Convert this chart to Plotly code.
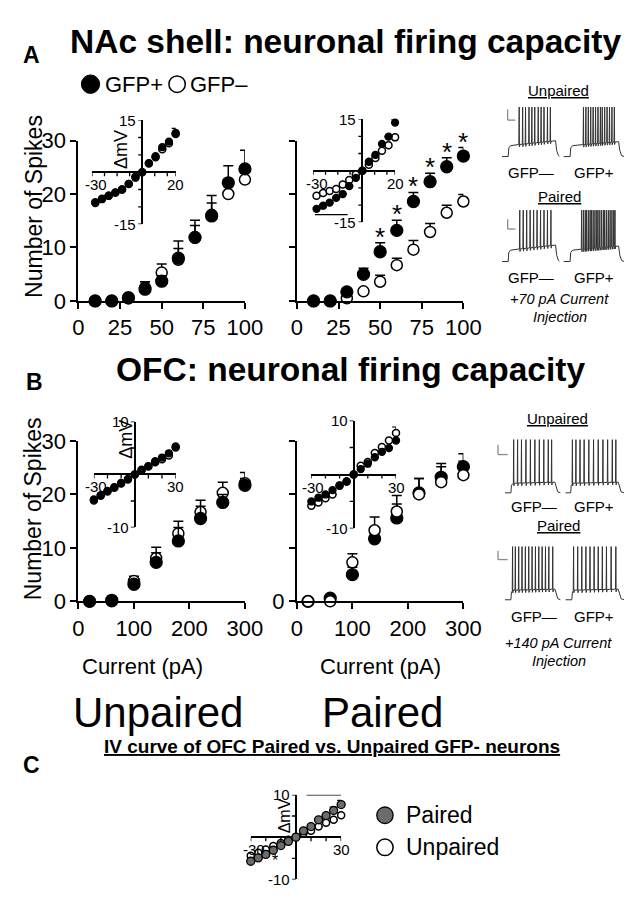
import plotly.graph_objects as go

W, H = 636, 899
FONT = "Liberation Sans, Arial, sans-serif"


def fx(p):
    return p / W


def fy(p):
    return 1 - p / H


# ---------------- DATA ----------------
A_current = [10, 20, 30, 40, 50, 60, 70, 80, 90, 100]
A_unp_pos = [0, 0, 0.6, 2.2, 3.7, 8.0, 11.9, 15.9, 22.1, 24.7]
A_unp_pos_err = [0, 0, 0, 1.4, 1.0, 3.2, 3.2, 3.8, 3.2, 3.5]
A_unp_neg = [0, 0, 0.5, 2.5, 5.3, 7.7, 11.8, 16.1, 20.0, 22.7]
A_unp_neg_err = [0, 0, 0, 1.1, 1.6, 2.1, 2.3, 2.2, 1.5, 1.2]
A_pair_pos = [0, 0, 1.7, 5.0, 9.2, 13.2, 18.6, 22.3, 25.1, 27.1]
A_pair_pos_err = [0, 0, 0, 1.1, 1.7, 1.9, 1.7, 1.6, 1.7, 1.6]
A_pair_neg = [0, 0, 0.5, 1.8, 3.6, 6.7, 9.6, 12.9, 16.5, 18.6]
A_pair_neg_err = [0, 0, 0, 0, 1.2, 1.3, 1.7, 1.6, 1.4, 1.3]
A_pair_sig = ["", "", "", "", "*", "*", "*", "*", "*", "*"]
A_xticks = [0, 25, 50, 75, 100]

IVA_current = [-28, -24, -20, -16, -12, -8, -4, 0, 4, 8, 12, 16, 20]
IVA_unp_pos = [-8.9, -7.8, -6.8, -5.9, -5.0, -3.4, -1.6, 0, 2.6, 4.6, 7.2, 8.8, 11.3]
IVA_unp_neg = [-8.7, -7.7, -6.8, -5.9, -5.0, -3.4, -1.3, 0, 2.5, 4.3, 6.6, 8.3, 11.0]
IVA_unp_neg_err = [0, 0, 0, 0, 0, 0, 0, 0, 0, 0, 0, 0, 1.6]
IVA_pair_pos = [-11.1, -10.2, -9.3, -7.9, -6.8, -4.5, -2.1, 0, 2.6, 4.6, 7.8, 9.9, 14.0]
IVA_pair_pos_err = [0, 0, 0, 0, 0, 0, 0, 0, 0, 0, 0, 0, 1.0]
IVA_pair_neg = [-7.3, -6.5, -5.9, -5.3, -4.0, -2.7, -1.1, 0, 1.7, 3.7, 5.8, 7.4, 9.7]

B_current = [20, 60, 100, 140, 180, 220, 260, 300]
B_unp_pos = [0, 0.2, 3.2, 7.3, 11.3, 15.5, 18.5, 21.7]
B_unp_pos_err = [0, 0, 0.8, 1.8, 2.5, 2.3, 1.5, 1.3]
B_unp_neg = [0, 0, 3.8, 8.1, 12.7, 16.7, 20.3, 22.1]
B_unp_neg_err = [0, 0, 0.9, 2.0, 2.3, 2.2, 2.0, 2.0]
B_pair_pos = [0, 0.6, 5.0, 11.7, 15.6, 20.3, 23.2, 25.2]
B_pair_pos_err = [0, 0, 1.4, 1.6, 2.6, 2.7, 2.6, 2.4]
B_pair_neg = [0, 0, 7.3, 13.3, 16.8, 20.0, 22.3, 23.6]
B_pair_neg_err = [0, 0, 1.6, 2.5, 3.0, 3.0, 2.9, 2.6]
B_xticks = [0, 100, 200, 300]

IVB_current = [-30, -25, -20, -15, -10, -5, 0, 5, 10, 15, 20, 25, 30]
IVB_unp_pos = [-4.7, -3.9, -3.1, -2.4, -1.6, -0.9, 0, 0.9, 1.6, 2.5, 3.2, 4.0, 5.3]
IVB_unp_neg = [-4.9, -4.0, -3.2, -2.5, -1.7, -0.9, 0, 0.8, 1.5, 2.3, 2.9, 3.6, 5.1]
IVB_pair_pos = [-5.0, -4.3, -3.7, -2.9, -2.0, -1.3, 0, 1.0, 2.0, 3.2, 4.2, 4.9, 6.3]
IVB_pair_neg = [-5.8, -5.2, -4.4, -3.7, -2.1, -1.3, 0, 1.6, 2.3, 4.0, 5.1, 6.3, 7.7]
IVB_pair_neg_err = [0, 0, 0, 0, 0, 0, 0, 0, 0, 0, 0, 0, 1.1]

C_current = [-30, -25, -20, -15, -10, -5, 0, 5, 10, 15, 20, 25, 30]
C_paired = [-5.7, -4.9, -4.1, -3.1, -2.0, -1.0, 0, 1.5, 2.5, 4.1, 5.1, 6.3, 7.7]
C_paired_err = [0, 0, 0, 0, 0, 0, 0, 0, 0, 0, 0, 0.8, 1.0]
C_unpaired = [-4.4, -3.7, -2.9, -2.1, -1.4, -0.6, 0, 0.9, 1.5, 2.5, 3.4, 4.1, 5.2]
C_unpaired_err = [0, 0, 0, 0, 0, 0, 0, 0, 0, 0, 0, 0, 0.5]

A_unp_neg_spikes = [0.30, 0.36, 0.41, 0.47, 0.52, 0.57, 0.63, 0.68, 0.73, 0.79, 0.84]
A_unp_pos_spikes = [0.33, 0.37, 0.41, 0.45, 0.49, 0.53, 0.57, 0.61, 0.64, 0.68, 0.72, 0.76, 0.80, 0.84]
A_pair_neg_spikes = [0.31, 0.37, 0.43, 0.49, 0.55, 0.61, 0.67, 0.73, 0.79, 0.85]
A_pair_pos_spikes = [0.30, 0.33, 0.36, 0.38, 0.41, 0.44, 0.46, 0.49, 0.52, 0.55, 0.57,
                     0.60, 0.63, 0.66, 0.68, 0.71, 0.74, 0.77, 0.80, 0.83, 0.85]
B_unp_neg_spikes = [0.16, 0.23, 0.30, 0.38, 0.46, 0.54, 0.62, 0.70, 0.78, 0.84]
B_unp_pos_spikes = [0.12, 0.18, 0.25, 0.32, 0.40, 0.48, 0.56, 0.64, 0.72, 0.80, 0.86]
B_pair_neg_spikes = [0.14, 0.19, 0.25, 0.31, 0.37, 0.43, 0.49, 0.55, 0.61, 0.67, 0.73, 0.79, 0.86]
B_pair_pos_spikes = [0.14, 0.21, 0.28, 0.35, 0.42, 0.49, 0.56, 0.63, 0.70, 0.78, 0.86]

# ---------------- FIGURE ----------------
fig = go.Figure()
layout = {}
annotations = []
shapes = []


def main_axes(n, x0, x1, ytop, ybot, xr, xt, ytext):
    layout["xaxis%d" % n] = dict(
        domain=[fx(x0), fx(x1)], range=xr, anchor="y%d" % n,
        showline=True, linecolor="black", linewidth=2, ticks="outside",
        ticklen=6, tickwidth=2, tickcolor="black", tickvals=xt,
        ticktext=[str(v) for v in xt],
        tickfont=dict(size=22, color="black", family=FONT),
        showgrid=False, zeroline=False, fixedrange=True)
    layout["yaxis%d" % n] = dict(
        domain=[fy(ybot), fy(ytop)], range=[0, 30], anchor="x%d" % n,
        showline=True, linecolor="black", linewidth=2, ticks="outside",
        ticklen=6, tickwidth=2, tickcolor="black", tickvals=[0, 10, 20, 30],
        ticktext=ytext, tickfont=dict(size=22, color="black", family=FONT),
        showgrid=False, zeroline=False, fixedrange=True)


def inset_axes(n, x0, x1, ytop, ybot, xr, yr):
    common = dict(showline=False, showticklabels=False, ticks="", showgrid=False,
                  zeroline=True, zerolinecolor="black", zerolinewidth=1.5,
                  fixedrange=True)
    layout["xaxis%d" % n] = dict(domain=[fx(x0), fx(x1)], range=xr, anchor="y%d" % n, **common)
    layout["yaxis%d" % n] = dict(domain=[fy(ybot), fy(ytop)], range=yr, anchor="x%d" % n, **common)


def hidden_axes(n, x0, x1, ytop, ybot):
    layout["xaxis%d" % n] = dict(domain=[fx(x0), fx(x1)], range=[0, 1], anchor="y%d" % n,
                                 visible=False, fixedrange=True)
    layout["yaxis%d" % n] = dict(domain=[fy(ybot), fy(ytop)], range=[-0.03, 1.03],
                                 anchor="x%d" % n, visible=False, fixedrange=True)


def series(n, x, y, err, filled, size, color="black", ew=1.5, ewidth=5):
    xa = "x" if n == 1 else "x%d" % n
    ya = "y" if n == 1 else "y%d" % n
    marker = dict(size=size, color=color if filled else "white",
                  line=dict(color="black", width=1.3 if filled else 1.5))
    kw = {}
    if err is not None:
        kw["error_y"] = dict(type="data", array=err, arrayminus=[0] * len(err),
                             symmetric=False, color="black", thickness=ew, width=ewidth)
    fig.add_trace(go.Scatter(x=x, y=y, mode="markers", marker=marker, xaxis=xa, yaxis=ya,
                             cliponaxis=False, hoverinfo="skip", **kw))


def inset_ticks(n, xt, yt):
    for v in xt:
        shapes.append(dict(type="line", xref="x%d" % n, yref="y%d" % n, ysizemode="pixel",
                           yanchor=0, x0=v, x1=v, y0=0, y1=-4,
                           line=dict(color="black", width=1.3)))
    for v in yt:
        shapes.append(dict(type="line", xref="x%d" % n, yref="y%d" % n, xsizemode="pixel",
                           xanchor=0, y0=v, y1=v, x0=0, x1=-4,
                           line=dict(color="black", width=1.3)))


def inset_label(n, text, x, y, xanchor="center", yanchor="middle", xshift=0, yshift=0,
                size=15, angle=0):
    annotations.append(dict(text=text, xref="x%d" % n, yref="y%d" % n, x=x, y=y,
                            xanchor=xanchor, yanchor=yanchor, xshift=xshift, yshift=yshift,
                            showarrow=False, textangle=angle,
                            font=dict(size=size, color="black", family=FONT)))


def text(t, x, y, size, bold=False, italic=False, xanchor="center", angle=0, color="black"):
    if bold:
        t = "<b>%s</b>" % t
    if italic:
        t = "<i>%s</i>" % t
    annotations.append(dict(text=t, xref="paper", yref="paper", x=fx(x), y=fy(y),
                            xanchor=xanchor, yanchor="middle", showarrow=False,
                            textangle=angle, font=dict(size=size, color=color, family=FONT)))


# --- Panel A main
main_axes(1, 67, 240, 124, 289, [0, 100], A_xticks, ["0", "10", "20", "30"])
main_axes(2, 294, 467, 124, 289, [0, 100], A_xticks, ["", "", "", ""])
series(1, A_current, A_unp_neg, A_unp_neg_err, False, 11)
series(1, A_current, A_unp_pos, A_unp_pos_err, True, 12)
series(2, A_current, A_pair_neg, A_pair_neg_err, False, 11)
series(2, A_current, A_pair_pos, A_pair_pos_err, True, 12)
for xv, yv, ev, s in zip(A_current, A_pair_pos, A_pair_pos_err, A_pair_sig):
    if s:
        annotations.append(dict(text=s, xref="x2", yref="y2", x=xv, y=yv + ev, yanchor="middle",
                                yshift=6, showarrow=False,
                                font=dict(size=26, color="black", family=FONT)))

# --- Panel A insets
inset_axes(3, 81, 168, 103, 210, [-30, 20], [-15, 15])
inset_axes(4, 311, 396, 102, 208, [-30, 20], [-15, 15])
series(3, IVA_current, IVA_unp_neg, IVA_unp_neg_err, False, 7, ew=1.2, ewidth=4)
series(3, IVA_current, IVA_unp_pos, None, True, 7)
series(4, IVA_current, IVA_pair_neg, None, False, 7)
series(4, IVA_current, IVA_pair_pos, IVA_pair_pos_err, True, 7, ew=1.2, ewidth=4)
for n in (3, 4):
    inset_ticks(n, [-30, -22.5, -15, -7.5, 7.5, 15, 20], [-15, -10, -5, 5, 10, 15])
    inset_label(n, "15", 0, 15, xanchor="right", xshift=-4)
    inset_label(n, "-15", 0, -15, xanchor="right", xshift=-4)
    inset_label(n, "-30", -30, 0, yanchor="top", yshift=-2, xshift=4)
    inset_label(n, "20", 20, 0, yanchor="top", yshift=-2)
inset_label(3, "ΔmV", -13, 6.5, size=18, angle=-90)
inset_label(3, "pA", 21.5, 2.8, size=19)
shapes.append(dict(type="line", xref="x4", yref="y4", x0=10, x1=20, y0=16.7, y1=16.7,
                   line=dict(color="black", width=1.3)))
inset_label(4, "*", 15, 17.4, size=16)
shapes.append(dict(type="line", xref="x4", yref="y4", x0=-29, x1=-9, y0=-12.8, y1=-12.8,
                   line=dict(color="black", width=1.3)))
inset_label(4, "*", -18.5, -15.2, size=16)

# --- Panel B main
main_axes(5, 67, 240, 433, 598, [0, 300], B_xticks, ["0", "10", "20", "30"])
main_axes(6, 294, 467, 433, 598, [0, 300], B_xticks, ["0", "", "", ""])
series(5, B_current, B_unp_neg, B_unp_neg_err, False, 11)
series(5, B_current, B_unp_pos, B_unp_pos_err, True, 12)
series(6, B_current, B_pair_pos, B_pair_pos_err, True, 12)
series(6, B_current, B_pair_neg, B_pair_neg_err, False, 11)

# --- Panel B insets
inset_axes(7, 83, 168, 413, 522, [-30, 30], [-10, 10])
inset_axes(8, 309, 397, 412, 523, [-30, 30], [-10, 10])
series(7, IVB_current, IVB_unp_neg, None, False, 7)
series(7, IVB_current, IVB_unp_pos, None, True, 7)
series(8, IVB_current, IVB_pair_neg, IVB_pair_neg_err, False, 7, ew=1.2, ewidth=4)
series(8, IVB_current, IVB_pair_pos, None, True, 7)
for n in (7, 8):
    inset_ticks(n, [-30, -20, -10, 10, 20, 30], [-10, -5, 5, 10])
    inset_label(n, "10", 0, 10, xanchor="right", xshift=-4)
    inset_label(n, "-10", 0, -10, xanchor="right", xshift=-4)
    inset_label(n, "-30", -30, 0, yanchor="top", yshift=-2, xshift=2)
    inset_label(n, "30", 30, 0, yanchor="top", yshift=-2)
inset_label(7, "ΔmV", -7, 6.6, size=18, angle=-90)
inset_label(7, "pA", 31, 1.8, size=19)

# --- Panel C inset
inset_axes(9, 246, 340, 797, 884, [-30, 30], [-10, 10])
series(9, C_current, C_unpaired, C_unpaired_err, False, 7, ew=1.2, ewidth=4)
series(9, C_current, C_paired, C_paired_err, True, 8, color="#6b6b6b", ew=1.2, ewidth=4)
inset_ticks(9, [-30, -20, -10, 10, 20, 30], [-10, -5, 5, 10])
inset_label(9, "10", 0, 10, xanchor="right", xshift=-4)
inset_label(9, "-10", 0, -10, xanchor="right", xshift=-4)
inset_label(9, "-30", -30, 0, yanchor="top", yshift=-2, xshift=3)
inset_label(9, "30", 30, 0, yanchor="top", yshift=-2)
inset_label(9, "ΔmV", -7, 5.0, size=16, angle=-90)
inset_label(9, "pA", 31, 1.8, size=17)
shapes.append(dict(type="line", xref="x9", yref="y9", x0=7, x1=30, y0=10, y1=10,
                   line=dict(color="black", width=1.3)))
inset_label(9, "*", 18.5, 10.6, size=16)
inset_label(9, "*", -14, -5.6, size=16)


def build_trace(spikes, onset, offset, p0, p1):
    xs = [0.0, onset, onset + 0.01, onset + 0.04]
    ys = [0.0, 0.0, p0 * 0.8, p0]
    for t in spikes:
        lvl = p0 + (p1 - p0) * (t - onset) / (offset - onset)
        xs += [t - 0.006, t, t + 0.004, t + 0.012]
        ys += [lvl, 1.0, lvl - 0.05, lvl]
    xs += [offset, offset + 0.02, offset + 0.05, 1.0]
    ys += [p1, 0.12, 0.02, 0.0]
    return xs, ys


rec_specs = [
    (10, 507, 567, 88, 142, A_unp_neg_spikes, 0.11, 0.93, 0.22, 0.32),
    (11, 571, 634, 88, 142, A_unp_pos_spikes, 0.11, 0.91, 0.22, 0.30),
    (12, 507, 567, 194, 250, A_pair_neg_spikes, 0.11, 0.93, 0.22, 0.32),
    (13, 571, 634, 194, 250, A_pair_pos_spikes, 0.11, 0.91, 0.22, 0.30),
    (14, 510, 568, 430, 488, B_unp_neg_spikes, 0.11, 0.90, 0.18, 0.20),
    (15, 573, 634, 430, 488, B_unp_pos_spikes, 0.09, 0.90, 0.18, 0.20),
    (16, 510, 568, 540, 598, B_pair_neg_spikes, 0.11, 0.90, 0.18, 0.20),
    (17, 573, 634, 540, 598, B_pair_pos_spikes, 0.11, 0.90, 0.18, 0.20),
]
for n, x0, x1, yt, yb, spk, on, off, p0, p1 in rec_specs:
    hidden_axes(n, x0, x1, yt, yb)
    xs, ys = build_trace(spk, on, off, p0, p1)
    fig.add_trace(go.Scatter(x=xs, y=ys, mode="lines", line=dict(color="#333333", width=1),
                             xaxis="x%d" % n, yaxis="y%d" % n, hoverinfo="skip",
                             cliponaxis=False))

for (vx, vy0, vy1, hx1) in [(513, 92, 103, 521), (513, 205, 215, 521),
                            (503, 437, 447, 513), (503, 546, 555, 513)]:
    shapes.append(dict(type="line", xref="paper", yref="paper", x0=fx(vx), x1=fx(vx),
                       y0=fy(vy0), y1=fy(vy1), line=dict(color="#8a8a8a", width=1.3)))
    shapes.append(dict(type="line", xref="paper", yref="paper", x0=fx(vx), x1=fx(hx1),
                       y0=fy(vy1), y1=fy(vy1), line=dict(color="#8a8a8a", width=1.3)))

text("A", 18, 36, 23, bold=True)
text("NAc shell: neuronal firing capacity", 345, 22, 33.5, bold=True)
text("B", 21, 372, 23, bold=True)
text("OFC: neuronal firing capacity", 350, 360, 33.5, bold=True)
text("C", 18, 766, 23, bold=True)
text("<u>IV curve of OFC Paired vs. Unpaired GFP- neurons</u>", 330, 747, 19, bold=True)

shapes.append(dict(type="circle", xref="paper", yref="paper", x0=fx(70), x1=fx(89),
                   y0=fy(75.5), y1=fy(56.5), fillcolor="black", line=dict(color="black", width=1)))
text("GFP+", 92, 66, 22, xanchor="left")
shapes.append(dict(type="circle", xref="paper", yref="paper", x0=fx(161), x1=fx(178),
                   y0=fy(74.5), y1=fy(57.5), fillcolor="white", line=dict(color="black", width=1.5)))
text("GFP–", 181, 66, 22, xanchor="left")

shapes.append(dict(type="circle", xref="paper", yref="paper", x0=fx(377), x1=fx(394),
                   y0=fy(826.5), y1=fy(809.5), fillcolor="#6b6b6b", line=dict(color="black", width=1.3)))
text("Paired", 405, 818, 23, xanchor="left")
shapes.append(dict(type="circle", xref="paper", yref="paper", x0=fx(377), x1=fx(394),
                   y0=fy(859.5), y1=fy(842.5), fillcolor="white", line=dict(color="black", width=1.5)))
text("Unpaired", 405, 851, 23, xanchor="left")

text("Number of Spikes", 20, 192, 23, angle=-90)
text("Number of Spikes", 20, 503, 23, angle=-90)
text("Current (pA)", 134, 665, 22)
text("Current (pA)", 381, 665, 22)
text("Unpaired", 150, 712, 42)
text("Paired", 383, 712, 42)

text("<u>Unpaired</u>", 566, 73, 15)
text("GFP—", 537, 157, 15)
text("GFP+", 603, 157, 15)
text("<u>Paired</u>", 567, 182, 15)
text("GFP—", 537, 265, 15)
text("GFP+", 603, 265, 15)
text("+70 pA Current", 567, 287, 14.5, italic=True)
text("Injection", 567, 305, 14.5, italic=True)

text("<u>Unpaired</u>", 565, 410, 15)
text("GFP—", 540, 500, 15)
text("GFP+", 603, 500, 15)
text("<u>Paired</u>", 566, 520, 15)
text("GFP—", 540, 614, 15)
text("GFP+", 603, 614, 15)
text("+140 pA Current", 566, 641, 14.5, italic=True)
text("Injection", 566, 659, 14.5, italic=True)

fig.update_layout(
    width=W, height=H, margin=dict(l=0, r=0, t=0, b=0),
    paper_bgcolor="white", plot_bgcolor="rgba(0,0,0,0)", showlegend=False,
    font=dict(family=FONT, color="black"),
    annotations=annotations, shapes=shapes, **layout)

fig.write_html("out.html")
